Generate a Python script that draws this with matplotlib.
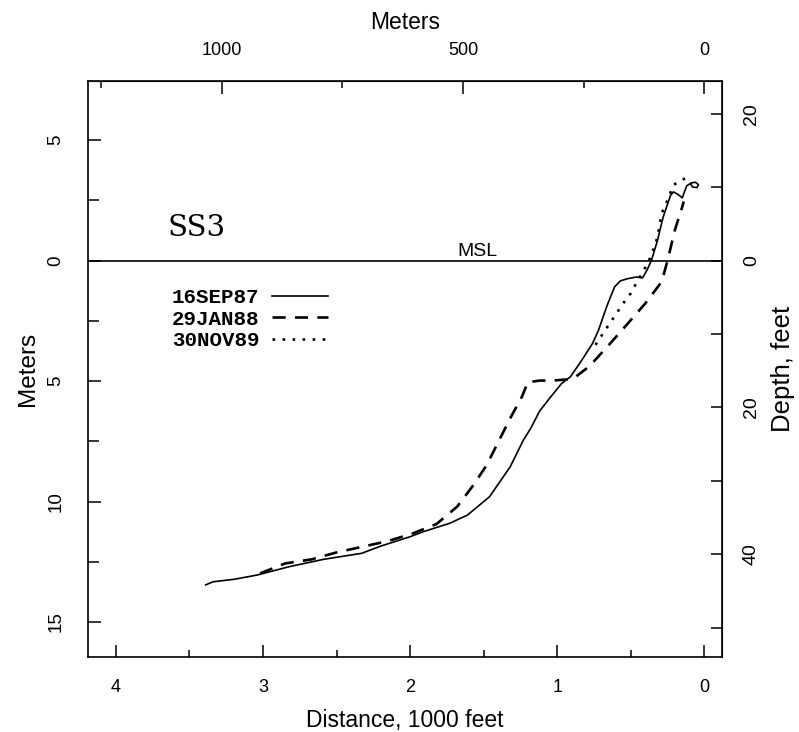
# Perfil de praia SS3 - distancia (1000 pes) x profundidade (metros, positivo para baixo)
import numpy as np
import matplotlib.pyplot as plt
from matplotlib.ticker import FuncFormatter, MultipleLocator

plt.rcParams['font.family'] = ['Liberation Sans', 'DejaVu Sans']

# 16SEP87 (linha cheia)
sep87_x = [3.39, 3.34, 3.20, 3.04, 2.82, 2.59, 2.33, 2.20, 2.00, 1.91, 1.73, 1.61,
           1.46, 1.32, 1.23, 1.18, 1.12, 1.05, 0.97, 0.91, 0.84, 0.76, 0.72, 0.66,
           0.61, 0.57, 0.52, 0.46, 0.42, 0.39, 0.36, 0.32, 0.28, 0.23, 0.21, 0.18,
           0.15, 0.12, 0.09, 0.06, 0.04, 0.05, 0.08, 0.09]
sep87_y = [13.46, 13.33, 13.23, 13.05, 12.70, 12.40, 12.15, 11.85, 11.46, 11.25, 10.90, 10.56,
           9.80, 8.56, 7.45, 6.96, 6.25, 5.70, 5.10, 4.82, 4.20, 3.44, 2.90, 1.85,
           1.09, 0.84, 0.75, 0.68, 0.72, 0.40, 0.00, -0.80, -1.80, -2.70, -2.85, -2.75,
           -2.60, -3.10, -3.22, -3.25, -3.15, -3.03, -3.05, -3.15]

# 29JAN88 (tracejada)
jan88_x = [3.02, 2.85, 2.67, 2.50, 2.32, 2.15, 1.98, 1.82, 1.68, 1.57, 1.48, 1.40,
           1.32, 1.24, 1.20, 1.12, 1.03, 0.93, 0.88, 0.78, 0.65, 0.52, 0.40, 0.29,
           0.25, 0.20, 0.15, 0.14]
jan88_y = [12.98, 12.57, 12.40, 12.11, 11.87, 11.64, 11.32, 10.93, 10.21, 9.32, 8.49, 7.52,
           6.55, 5.65, 5.05, 4.98, 4.98, 4.93, 4.85, 4.38, 3.51, 2.61, 1.77, 0.88,
           0.00, -1.27, -2.23, -2.45]

# 30NOV89 (pontilhada)
nov89_x = [0.74, 0.67, 0.60, 0.54, 0.50, 0.47, 0.41, 0.37, 0.33, 0.31, 0.29, 0.25,
           0.21, 0.16, 0.12, 0.09]
nov89_y = [3.50, 2.85, 2.22, 1.68, 1.36, 1.02, 0.39, -0.09, -0.71, -1.27, -1.96, -2.51,
           -3.13, -3.34, -3.42, -3.30]

datas = ['16SEP87', '29JAN88', '30NOV89']
FT_POR_M = 3.2808

fig = plt.figure(figsize=(7.99, 7.32), dpi=100)
ax = fig.add_axes([0.1101, 0.1025, 0.7935, 0.7868])

ax.axhline(0, color='black', lw=1.2)
ax.plot(sep87_x, sep87_y, color='black', lw=1.2, label=datas[0])
ax.plot(jan88_x, jan88_y, color='black', lw=1.9, ls=(0, (5, 3.5)), label=datas[1])
ax.plot(nov89_x, nov89_y, color='black', lw=1.9, ls=(0, (1, 2.8)), label=datas[2])

ax.set_xlim(4.19, -0.12)
ax.set_ylim(16.45, -7.45)

absoluto = FuncFormatter(lambda v, p: f"{abs(v):g}")

ax.set_xticks([0, 1, 2, 3, 4])
ax.xaxis.set_minor_locator(MultipleLocator(0.5))
ax.set_yticks([-5, 0, 5, 10, 15])
ax.yaxis.set_minor_locator(MultipleLocator(2.5))
ax.yaxis.set_major_formatter(absoluto)
ax.tick_params(which='both', direction='in', width=1.1, top=False, right=False)
ax.tick_params(which='major', length=9, labelsize=13, pad=16)
ax.tick_params(axis='x', which='minor', length=5)
ax.tick_params(axis='y', which='minor', length=8)
ax.tick_params(axis='y', which='major', labelrotation=90, labelsize=13.5, pad=17)
for t in ax.get_yticklabels():
    t.set_va('center')
for s in ax.spines.values():
    s.set_linewidth(1.2)

ax.set_xlabel('Distance, 1000 feet', fontsize=16.5, labelpad=9)
ax.set_ylabel('Meters', fontsize=17.5, labelpad=6)

# eixo superior em metros
topo = ax.secondary_xaxis('top', functions=(lambda k: k * 1000 / FT_POR_M,
                                             lambda m: m * FT_POR_M / 1000))
topo.set_xticks([0, 500, 1000])
topo.xaxis.set_minor_locator(MultipleLocator(250))
topo.tick_params(which='both', direction='in', width=1.1)
topo.tick_params(which='major', length=9, labelsize=13, pad=16)
topo.tick_params(which='minor', length=5)
topo.set_xlabel('Meters', fontsize=16.5, labelpad=9)

# eixo da direita em pes
dir_ = ax.secondary_yaxis('right', functions=(lambda m: m * FT_POR_M,
                                               lambda f: f / FT_POR_M))
dir_.set_yticks([-20, 0, 20, 40])
dir_.yaxis.set_minor_locator(MultipleLocator(10))
dir_.yaxis.set_major_formatter(absoluto)
dir_.tick_params(which='both', direction='in', width=1.1, length=8)
dir_.tick_params(which='major', labelsize=14, pad=15, labelrotation=90)
for t in dir_.get_yticklabels():
    t.set_va('center')
dir_.set_ylabel('Depth, feet', fontsize=18.5, labelpad=8)

ax.text(0.126, 0.745, 'SS3', transform=ax.transAxes, fontsize=21,
        family='DejaVu Serif', va='center')
ax.annotate('MSL', xy=(0.615, 0), xycoords=('axes fraction', 'data'),
            xytext=(0, 3), textcoords='offset points', ha='center',
            va='baseline', fontsize=14)

ax.legend(loc='upper left', bbox_to_anchor=(0.1325, 0.641), frameon=False,
          markerfirst=False, handlelength=2.7, handletextpad=0.6,
          labelspacing=0.13, borderpad=0, borderaxespad=0,
          prop={'family': 'Liberation Mono', 'size': 15, 'weight': 'bold'})

fig.savefig('out.png', dpi=100)
